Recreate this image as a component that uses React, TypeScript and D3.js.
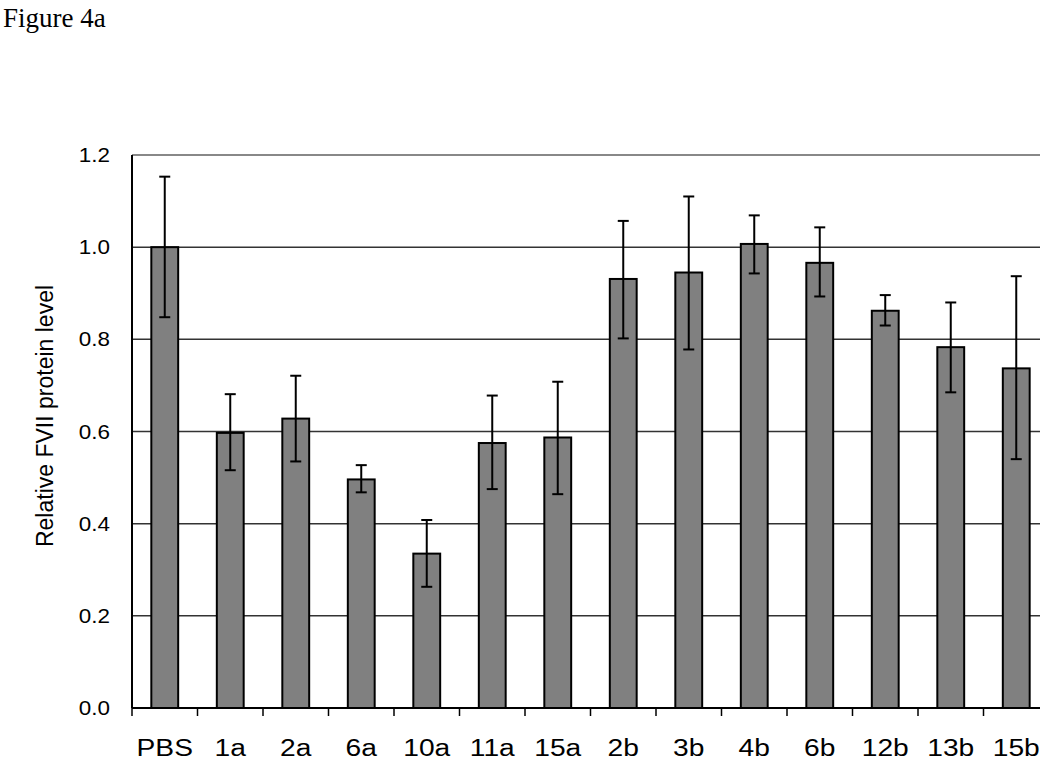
import React from "react";
import { scaleBand, scaleLinear } from "d3";

const WIDTH = 1050;
const HEIGHT = 766;
const MARGIN = { top: 155, left: 132, bottom: 58 };
const BAND = 65.5;
const CLIP_RIGHT = 1040;

// sample groups
const groups = ["PBS", "1a", "2a", "6a", "10a", "11a", "15a", "2b", "3b", "4b", "6b", "12b", "13b", "15b"];
// mean relative FVII level
const means = [1.0, 0.597, 0.628, 0.496, 0.335, 0.575, 0.587, 0.931, 0.945, 1.007, 0.966, 0.862, 0.783, 0.737];
// error bar ends
const errHigh = [1.153, 0.681, 0.721, 0.527, 0.408, 0.678, 0.708, 1.057, 1.11, 1.069, 1.043, 0.896, 0.88, 0.937];
const errLow = [0.848, 0.516, 0.535, 0.468, 0.263, 0.475, 0.464, 0.802, 0.778, 0.943, 0.893, 0.83, 0.685, 0.54];
const yTicks = [0, 0.2, 0.4, 0.6, 0.8, 1.0, 1.2];

const SANS = "'Liberation Sans', Arial, sans-serif";
const STRETCH = 1.15;

export default function App() {
  const bottom = HEIGHT - MARGIN.bottom;
  const xScale = scaleBand<string>()
    .domain(groups)
    .range([MARGIN.left, MARGIN.left + groups.length * BAND])
    .paddingInner(0)
    .paddingOuter(0);
  const yScale = scaleLinear().domain([0, 1.2]).range([bottom, MARGIN.top]);

  const bw = xScale.bandwidth();
  const barW = bw * 0.41;
  const capW = 11;

  return (
    <svg
      width={WIDTH}
      height={HEIGHT}
      style={{ position: "absolute", left: 0, top: 0, background: "#fff" }}
    >
      {/* figure title */}
      <text x={3} y={27} fontFamily="'Liberation Serif', 'Times New Roman', serif" fontSize={27} fill="#000">
        Figure 4a
      </text>

      {/* gridlines */}
      {yTicks.slice(1).map((t) => (
        <line
          key={t}
          x1={MARGIN.left}
          x2={CLIP_RIGHT}
          y1={yScale(t)}
          y2={yScale(t)}
          stroke={t === 1.2 ? "#888" : "#333"}
          strokeWidth={t === 1.2 ? 2 : 1.5}
        />
      ))}

      {/* y tick labels */}
      {yTicks.map((t) => (
        <text
          key={t}
          transform={`translate(110, ${yScale(t) + 7}) scale(${STRETCH}, 1)`}
          textAnchor="end"
          fontFamily={SANS}
          fontSize={19.5}
          fill="#000"
        >
          {t.toFixed(1)}
        </text>
      ))}

      {/* bars */}
      {groups.map((g, i) => {
        const cx = (xScale(g) as number) + bw / 2;
        return (
          <rect
            key={g}
            x={cx - barW / 2}
            y={yScale(means[i])}
            width={barW}
            height={bottom - yScale(means[i])}
            fill="#808080"
            stroke="#000"
            strokeWidth={2}
          />
        );
      })}

      {/* error bars */}
      {groups.map((g, i) => {
        const cx = (xScale(g) as number) + bw / 2;
        const yh = yScale(errHigh[i]);
        const yl = yScale(errLow[i]);
        return (
          <g key={g} stroke="#000" strokeWidth={2}>
            <line x1={cx} x2={cx} y1={yh} y2={yl} />
            <line x1={cx - capW / 2} x2={cx + capW / 2} y1={yh} y2={yh} />
            <line x1={cx - capW / 2} x2={cx + capW / 2} y1={yl} y2={yl} />
          </g>
        );
      })}

      {/* axes */}
      <line x1={MARGIN.left} x2={MARGIN.left} y1={MARGIN.top} y2={bottom} stroke="#000" strokeWidth={2} />
      <line x1={MARGIN.left} x2={CLIP_RIGHT} y1={bottom} y2={bottom} stroke="#000" strokeWidth={2} />
      {groups.map((g) => {
        const x = xScale(g) as number;
        return <line key={g} x1={x} x2={x} y1={bottom} y2={bottom + 8} stroke="#000" strokeWidth={1.5} />;
      })}

      {/* x labels */}
      {groups.map((g) => {
        const cx = (xScale(g) as number) + bw / 2;
        return (
          <text
            key={g}
            transform={`translate(${cx}, 756) scale(${STRETCH}, 1)`}
            textAnchor="middle"
            fontFamily={SANS}
            fontSize={24.5}
            fill="#000"
          >
            {g}
          </text>
        );
      })}

      {/* y axis title */}
      <text
        transform={`translate(53, 416) rotate(-90)`}
        textAnchor="middle"
        fontFamily={SANS}
        fontSize={23}
        fill="#000"
      >
        Relative FVII protein level
      </text>
    </svg>
  );
}
